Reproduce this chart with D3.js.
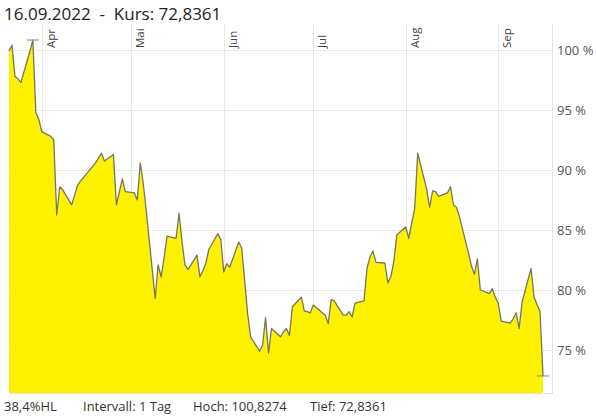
<!DOCTYPE html>
<html>
<head>
<meta charset="utf-8">
<script src="https://cdn.jsdelivr.net/npm/d3@7"></script>
<style>
  html, body { margin: 0; padding: 0; background: #fff; }
  svg { display: block; font-family: "Open Sans", "Noto Sans", sans-serif; }
</style>
</head>
<body>
<svg id="chart" width="596" height="416"></svg>
<script>
// Kursverlauf in % vom Startwert, ein Wert je Handelstag (21.03.2022 - 16.09.2022)
var firstDay = "2022-03-21";
var lastDay = "2022-09-16";
var holidays = ["2022-04-15", "2022-04-18"];

var valuesMar = [99.9, 100.4, 97.8, 97.6, 97.3, 99.9, 100.83, 94.8, 94.2];
var valuesApr = [93.2, 92.8, 92.5, 86.25, 88.6, 88.35, 87.1, 87.9, 88.75, 89.1,
                 90.6, 91.0, 91.4, 90.75, 91.3, 87.1, 88.2, 89.25, 88.2];
var valuesMay = [88.1, 87.5, 90.6, 88.9, 86.6, 79.3, 82.1, 81.1, 82.7, 84.5,
                 84.3, 86.4, 84.0, 82.1, 81.7, 82.9, 81.1, 81.6, 82.25, 83.4,
                 84.7, 84.2];
var valuesJun = [81.5, 82.2, 81.9, 84.0, 83.5, 80.8, 78.0, 76.1, 74.9, 75.4,
                 77.7, 74.75, 76.8, 76.1, 76.5, 76.8, 76.2, 78.6, 79.4, 78.25,
                 78.2, 78.1];
var valuesJul = [78.75, 78.1, 77.9, 77.2, 79.2, 79.1, 77.9, 77.9, 78.2, 77.75,
                 78.9, 79.1, 81.8, 82.75, 83.25, 82.3, 82.25, 80.6, 81.1, 82.4,
                 84.6];
var valuesAug = [85.25, 84.3, 85.6, 86.8, 91.4, 88.4, 86.9, 88.25, 88.2, 87.8,
                 88.1, 88.6, 87.1, 86.9, 86.1, 83.1, 82.0, 81.3, 82.6, 80.0,
                 79.7, 80.1, 79.4];
var valuesSep = [78.9, 77.4, 77.25, 77.6, 78.1, 76.8, 79.0, 81.8, 79.4, 78.8,
                 78.2, 72.8361];

var yTicks = [75, 80, 85, 90, 95, 100];
var monthLabels = ["Apr", "Mai", "Jun", "Jul", "Aug", "Sep"];

var titleText = "16.09.2022  -  Kurs: 72,8361";
var footerTexts = ["38,4%HL", "Intervall: 1 Tag", "Hoch: 100,8274", "Tief: 72,8361"];

var parse = d3.utcParse("%Y-%m-%d");
var fmt = d3.utcFormat("%Y-%m-%d");

function tradingDays()
{
    var start = parse(firstDay), end = parse(lastDay);
    return d3.utcDay.range(start, d3.utcDay.offset(end, 1)).filter(function(d) {
        var wd = d.getUTCDay();
        return wd != 0 && wd != 6 && holidays.indexOf(fmt(d)) < 0;
    });
}

var days = tradingDays();
var values = [].concat(valuesMar, valuesApr, valuesMay, valuesJun, valuesJul, valuesAug, valuesSep);
var data = days.map(function(d, i) { return {date: d, value: values[i]}; });

var svg = d3.select("#chart"),
    plotLeft = 9, dataRight = 543, plotRight = 552,
    plotTop = 24, plotBottom = 393;

var x = d3.scaleUtc()
    .domain([parse(firstDay), parse(lastDay)])
    .range([plotLeft, dataRight]);

var y = d3.scaleLinear()
    .domain([71.417, 102.167])
    .range([plotBottom, plotTop]);

// title
svg.append("text")
    .attr("x", 4)
    .attr("y", 20)
    .attr("fill", "#222")
    .style("font-size", "17px")
    .style("white-space", "pre")
    .text(titleText);

// grid
var grid = svg.append("g");
grid.selectAll(".hgrid")
    .data(yTicks)
    .enter().append("line")
    .attr("x1", plotLeft - 1).attr("x2", plotRight)
    .attr("y1", function(d) { return Math.round(y(d)) + 0.5; })
    .attr("y2", function(d) { return Math.round(y(d)) + 0.5; })
    .attr("stroke", "#e9e9e9");

var months = d3.utcMonth.range(d3.utcMonth.ceil(parse(firstDay)), parse(lastDay));
grid.selectAll(".vgrid")
    .data(months)
    .enter().append("line")
    .attr("x1", function(d) { return Math.round(x(d)) + 0.5; })
    .attr("x2", function(d) { return Math.round(x(d)) + 0.5; })
    .attr("y1", plotTop).attr("y2", plotBottom)
    .attr("stroke", "#e9e9e9");

// area + line
var area = d3.area()
    .x(function(d) { return x(d.date); })
    .y0(plotBottom)
    .y1(function(d) { return y(d.value); });

var line = d3.line()
    .x(function(d) { return x(d.date); })
    .y(function(d) { return y(d.value); });

svg.append("path")
    .datum(data)
    .attr("d", area)
    .attr("fill", "#fff200");

svg.append("path")
    .datum(data)
    .attr("d", line)
    .attr("fill", "none")
    .attr("stroke", "#77765c")
    .attr("stroke-width", 1.3)
    .attr("stroke-linejoin", "round");

// high / low markers
var hi = d3.greatest(data, function(d) { return d.value; });
var lo = d3.least(data, function(d) { return d.value; });
svg.selectAll(".mark")
    .data([hi, lo])
    .enter().append("line")
    .attr("x1", function(d) { return x(d.date) - 6; })
    .attr("x2", function(d) { return x(d.date) + 6; })
    .attr("y1", function(d) { return y(d.value); })
    .attr("y2", function(d) { return y(d.value); })
    .attr("stroke", "#888")
    .attr("stroke-width", 1);

// plot border (right, bottom)
svg.append("path")
    .attr("d", "M" + (plotRight + 0.5) + "," + plotTop + "V" + (plotBottom + 0.5) + "H" + plotLeft)
    .attr("fill", "none")
    .attr("stroke", "#e4e4e4");

// month labels
svg.selectAll(".month")
    .data(months)
    .enter().append("text")
    .attr("transform", function(d) { return "translate(" + (x(d) + 13) + ",48) rotate(-90)"; })
    .attr("fill", "#444")
    .style("font-size", "11.5px")
    .text(function(d, i) { return monthLabels[i]; });

// y labels
svg.selectAll(".ylab")
    .data(yTicks)
    .enter().append("text")
    .attr("x", 557)
    .attr("y", function(d) { return y(d) + 5; })
    .attr("fill", "#555")
    .style("font-size", "13px")
    .text(function(d) { return d + " %"; });

// footer
var footerX = [4, 83, 193, 310];
svg.selectAll(".foot")
    .data(footerTexts)
    .enter().append("text")
    .attr("x", function(d, i) { return footerX[i]; })
    .attr("y", 411)
    .attr("fill", "#333")
    .style("font-size", "13px")
    .text(function(d) { return d; });
</script>
</body>
</html>
